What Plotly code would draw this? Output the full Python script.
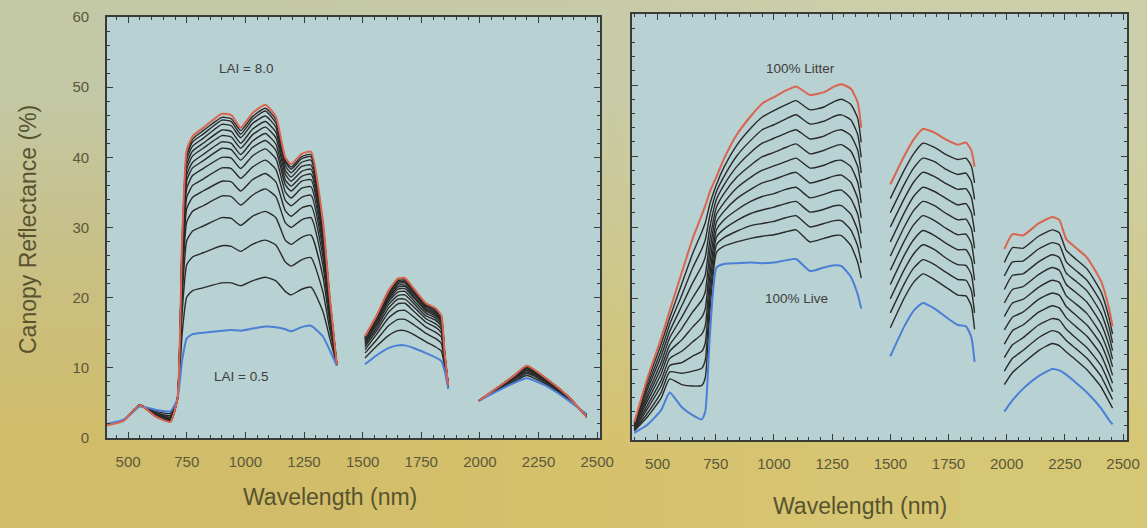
import base64
import struct
import zlib
import plotly.graph_objects as go

# ---------------- DATA ----------------
# Left panel: canopy reflectance (%) for LAI = 0.5 ... 8.0 (columns), per wavelength (rows)
lai_values = [0.5, 1.0, 1.5, 2.0, 2.5, 3.0, 3.5, 4.0, 4.5, 5.0, 5.5, 6.0, 6.5, 7.0, 7.5, 8.0]

left_vnir_wl = [410, 480, 550, 620, 680, 710, 730, 750, 775, 820, 900, 940, 980, 1030,
                1085, 1130, 1170, 1195, 1240, 1280, 1330, 1360, 1390]
left_vnir = [
    [2.0, 1.9, 1.9, 1.9, 1.9, 1.9, 1.9, 1.9, 1.9, 1.9, 1.9, 1.9, 1.9, 1.9, 1.9, 1.8],
    [2.6, 2.5, 2.5, 2.5, 2.5, 2.5, 2.5, 2.5, 2.5, 2.5, 2.5, 2.5, 2.5, 2.5, 2.5, 2.4],
    [4.5, 4.5, 4.6, 4.6, 4.6, 4.6, 4.7, 4.7, 4.7, 4.7, 4.7, 4.7, 4.7, 4.7, 4.7, 4.7],
    [4.0, 3.8, 3.6, 3.5, 3.4, 3.3, 3.3, 3.2, 3.2, 3.1, 3.1, 3.1, 3.1, 3.0, 3.0, 3.0],
    [3.8, 3.5, 3.2, 3.0, 2.9, 2.8, 2.7, 2.6, 2.5, 2.5, 2.5, 2.4, 2.4, 2.4, 2.3, 2.3],
    [5.5, 5.5, 5.5, 5.5, 5.5, 5.5, 5.5, 5.5, 5.5, 5.5, 5.5, 5.5, 5.5, 5.5, 5.5, 5.5],
    [11.0, 14.7, 17.6, 19.8, 21.5, 22.7, 23.8, 24.6, 25.3, 25.8, 26.3, 26.7, 27.2, 27.5, 27.7, 28.0],
    [14.2, 20.1, 24.7, 28.1, 30.8, 32.7, 34.3, 35.6, 36.7, 37.5, 38.3, 39.0, 39.7, 40.2, 40.6, 41.0],
    [14.8, 21.0, 25.8, 29.5, 32.3, 34.3, 36.0, 37.4, 38.5, 39.3, 40.2, 40.9, 41.6, 42.2, 42.6, 43.0],
    [15.0, 21.4, 26.4, 30.2, 33.1, 35.2, 36.9, 38.4, 39.5, 40.4, 41.3, 42.0, 42.7, 43.3, 43.8, 44.2],
    [15.3, 22.1, 27.4, 31.4, 34.5, 36.6, 38.5, 40.0, 41.3, 42.2, 43.1, 43.9, 44.7, 45.3, 45.7, 46.2],
    [15.4, 22.1, 27.3, 31.3, 34.4, 36.5, 38.4, 39.9, 41.1, 42.0, 42.9, 43.7, 44.5, 45.1, 45.5, 46.0],
    [15.3, 21.7, 26.6, 30.3, 33.2, 35.2, 37.0, 38.4, 39.6, 40.4, 41.3, 42.0, 42.8, 43.3, 43.8, 44.2],
    [15.6, 22.4, 27.6, 31.6, 34.6, 36.8, 38.6, 40.2, 41.4, 42.3, 43.2, 44.0, 44.8, 45.4, 45.8, 46.3],
    [15.9, 22.9, 28.2, 32.3, 35.5, 37.7, 39.6, 41.2, 42.4, 43.4, 44.3, 45.1, 45.9, 46.6, 47.0, 47.5],
    [15.8, 22.4, 27.5, 31.4, 34.4, 36.5, 38.3, 39.8, 41.0, 41.9, 42.8, 43.6, 44.3, 44.9, 45.4, 45.8],
    [15.5, 20.9, 25.1, 28.2, 30.7, 32.4, 33.9, 35.1, 36.1, 36.8, 37.6, 38.2, 38.8, 39.3, 39.6, 40.0],
    [15.2, 20.4, 24.5, 27.6, 30.0, 31.6, 33.1, 34.2, 35.2, 35.9, 36.6, 37.2, 37.8, 38.3, 38.6, 39.0],
    [15.8, 21.2, 25.4, 28.6, 31.1, 32.8, 34.3, 35.6, 36.6, 37.3, 38.0, 38.7, 39.3, 39.8, 40.1, 40.5],
    [16.0, 21.5, 25.7, 28.9, 31.4, 33.1, 34.6, 35.8, 36.8, 37.6, 38.3, 38.9, 39.6, 40.1, 40.4, 40.8],
    [14.5, 18.1, 20.9, 23.1, 24.7, 25.9, 26.9, 27.7, 28.4, 28.9, 29.4, 29.8, 30.2, 30.5, 30.8, 31.0],
    [12.5, 14.2, 15.4, 16.4, 17.2, 17.7, 18.1, 18.5, 18.8, 19.0, 19.3, 19.4, 19.6, 19.8, 19.9, 20.0],
    [10.3, 10.4, 10.4, 10.4, 10.4, 10.4, 10.4, 10.4, 10.4, 10.4, 10.4, 10.4, 10.4, 10.4, 10.4, 10.5],
]

left_swir1_wl = [1510, 1560, 1610, 1650, 1680, 1720, 1770, 1810, 1835, 1850, 1865]
left_swir1 = [
    [10.5, 11.4, 12.1, 12.6, 13.0, 13.3, 13.5, 13.7, 13.9, 14.0, 14.1, 14.2, 14.3, 14.4, 14.4, 14.5],
    [11.8, 13.1, 14.0, 14.8, 15.3, 15.7, 16.1, 16.4, 16.6, 16.8, 16.9, 17.1, 17.2, 17.3, 17.4, 17.5],
    [12.8, 14.6, 16.0, 17.1, 17.9, 18.5, 19.0, 19.4, 19.7, 19.9, 20.2, 20.4, 20.6, 20.8, 20.9, 21.0],
    [13.2, 15.3, 16.9, 18.1, 19.1, 19.8, 20.3, 20.8, 21.2, 21.5, 21.8, 22.0, 22.2, 22.4, 22.6, 22.7],
    [13.2, 15.3, 16.9, 18.2, 19.2, 19.8, 20.4, 20.9, 21.3, 21.6, 21.8, 22.1, 22.3, 22.5, 22.7, 22.8],
    [12.8, 14.7, 16.1, 17.2, 18.0, 18.6, 19.1, 19.5, 19.9, 20.1, 20.4, 20.6, 20.8, 21.0, 21.1, 21.2],
    [12.1, 13.7, 14.9, 15.8, 16.5, 17.0, 17.4, 17.8, 18.1, 18.3, 18.5, 18.7, 18.9, 19.0, 19.1, 19.2],
    [11.5, 13.0, 14.2, 15.1, 15.8, 16.3, 16.8, 17.1, 17.4, 17.6, 17.8, 18.0, 18.2, 18.3, 18.4, 18.5],
    [11.0, 12.4, 13.5, 14.4, 15.0, 15.5, 15.9, 16.2, 16.5, 16.7, 16.9, 17.0, 17.2, 17.3, 17.4, 17.5],
    [9.5, 10.1, 10.5, 10.8, 11.1, 11.2, 11.4, 11.5, 11.6, 11.7, 11.8, 11.8, 11.9, 11.9, 12.0, 12.0],
    [7.0, 7.1, 7.2, 7.3, 7.3, 7.3, 7.4, 7.4, 7.4, 7.4, 7.5, 7.5, 7.5, 7.5, 7.5, 7.5],
]

left_swir2_wl = [1995, 2080, 2150, 2200, 2290, 2380, 2455]
left_swir2 = [
    [5.3, 5.3, 5.3, 5.3, 5.3, 5.3, 5.3, 5.3, 5.3, 5.3, 5.3, 5.3, 5.3, 5.3, 5.3, 5.3],
    [6.8, 6.9, 7.0, 7.1, 7.1, 7.1, 7.2, 7.2, 7.2, 7.2, 7.2, 7.3, 7.3, 7.3, 7.3, 7.3],
    [7.9, 8.1, 8.3, 8.5, 8.6, 8.7, 8.7, 8.8, 8.8, 8.9, 8.9, 8.9, 9.0, 9.0, 9.0, 9.0],
    [8.5, 8.9, 9.2, 9.4, 9.6, 9.7, 9.9, 9.9, 10.0, 10.1, 10.1, 10.2, 10.2, 10.2, 10.3, 10.3],
    [7.3, 7.5, 7.7, 7.8, 7.9, 8.0, 8.1, 8.1, 8.1, 8.2, 8.2, 8.2, 8.3, 8.3, 8.3, 8.3],
    [5.3, 5.4, 5.5, 5.6, 5.6, 5.6, 5.7, 5.7, 5.7, 5.7, 5.8, 5.8, 5.8, 5.8, 5.8, 5.8],
    [3.4, 3.3, 3.2, 3.2, 3.2, 3.1, 3.1, 3.1, 3.1, 3.1, 3.0, 3.0, 3.0, 3.0, 3.0, 3.0],
]

# Right panel: canopy reflectance (%) from 100% live (first column) to 100% litter (last column)
right_vnir_wl = [400, 455, 515, 552, 604, 650, 690, 705, 725, 753, 785, 840, 900, 950,
                 1000, 1050, 1095, 1155, 1215, 1260, 1290, 1330, 1360, 1375]
right_vnir = [
    [1.0, 1.3, 1.4, 1.5, 1.6, 1.8, 1.9, 2.0, 2.1, 2.3, 2.4, 2.5],
    [2.1, 3.2, 3.7, 4.3, 4.8, 5.4, 5.9, 6.4, 7.0, 7.5, 8.1, 8.6],
    [4.2, 5.9, 6.7, 7.6, 8.4, 9.3, 10.1, 10.9, 11.8, 12.6, 13.5, 14.3],
    [6.7, 8.6, 9.6, 10.5, 11.5, 12.5, 13.4, 14.4, 15.3, 16.3, 17.2, 18.2],
    [4.6, 7.8, 9.4, 10.9, 12.5, 14.1, 15.7, 17.3, 18.9, 20.4, 22.0, 23.6],
    [3.5, 7.6, 9.7, 11.8, 13.8, 15.9, 18.0, 20.0, 22.1, 24.2, 26.2, 28.3],
    [2.9, 7.7, 10.1, 12.5, 14.9, 17.3, 19.7, 22.1, 24.5, 26.9, 29.3, 31.7],
    [4.0, 8.8, 11.3, 13.7, 16.1, 18.5, 20.9, 23.3, 25.8, 28.2, 30.6, 33.0],
    [15.0, 18.3, 20.0, 21.7, 23.3, 25.0, 26.7, 28.3, 30.0, 31.7, 33.3, 35.0],
    [24.3, 26.4, 27.5, 28.6, 29.6, 30.7, 31.8, 32.8, 33.9, 35.0, 36.0, 37.1],
    [24.8, 27.3, 28.5, 29.7, 31.0, 32.2, 33.4, 34.7, 35.9, 37.1, 38.4, 39.6],
    [24.9, 27.9, 29.4, 30.9, 32.4, 34.0, 35.5, 37.0, 38.5, 40.0, 41.5, 43.0],
    [25.0, 28.4, 30.2, 31.9, 33.6, 35.3, 37.0, 38.7, 40.5, 42.2, 43.9, 45.6],
    [24.9, 28.7, 30.5, 32.4, 34.3, 36.2, 38.0, 39.9, 41.8, 43.7, 45.5, 47.4],
    [25.0, 28.9, 30.8, 32.8, 34.7, 36.7, 38.6, 40.5, 42.5, 44.4, 46.4, 48.3],
    [25.3, 29.3, 31.3, 33.3, 35.3, 37.3, 39.2, 41.2, 43.2, 45.2, 47.2, 49.2],
    [25.5, 29.6, 31.6, 33.6, 35.6, 37.7, 39.7, 41.7, 43.7, 45.8, 47.8, 49.8],
    [23.8, 27.9, 30.0, 32.1, 34.1, 36.2, 38.3, 40.3, 42.4, 44.5, 46.5, 48.6],
    [24.3, 28.4, 30.5, 32.5, 34.6, 36.7, 38.7, 40.8, 42.8, 44.9, 46.9, 49.0],
    [24.6, 28.8, 30.9, 33.0, 35.1, 37.2, 39.3, 41.4, 43.5, 45.6, 47.7, 49.8],
    [24.5, 28.8, 30.9, 33.0, 35.2, 37.3, 39.4, 41.6, 43.7, 45.8, 48.0, 50.1],
    [23.0, 27.4, 29.6, 31.8, 34.0, 36.3, 38.5, 40.7, 42.9, 45.1, 47.3, 49.5],
    [20.5, 25.0, 27.3, 29.5, 31.8, 34.0, 36.3, 38.5, 40.8, 43.0, 45.3, 47.5],
    [18.5, 22.8, 24.9, 27.0, 29.1, 31.3, 33.4, 35.5, 37.6, 39.8, 41.9, 44.0],
]

right_swir1_wl = [1500, 1560, 1600, 1640, 1690, 1740, 1790, 1825, 1848, 1862]
right_swir1 = [
    [11.8, 15.8, 17.9, 19.9, 21.9, 23.9, 25.9, 27.9, 30.0, 32.0, 34.0, 36.0],
    [16.0, 20.0, 22.0, 24.0, 26.0, 28.0, 30.0, 32.0, 34.0, 36.0, 38.0, 40.0],
    [18.2, 22.2, 24.2, 26.2, 28.2, 30.3, 32.3, 34.3, 36.3, 38.3, 40.3, 42.3],
    [19.3, 23.4, 25.4, 27.5, 29.5, 31.6, 33.6, 35.6, 37.7, 39.7, 41.8, 43.8],
    [18.5, 22.6, 24.7, 26.8, 28.8, 30.9, 33.0, 35.0, 37.1, 39.2, 41.2, 43.3],
    [17.3, 21.5, 23.6, 25.6, 27.7, 29.8, 31.9, 34.0, 36.1, 38.1, 40.2, 42.3],
    [16.2, 20.4, 22.6, 24.7, 26.8, 28.9, 31.0, 33.1, 35.3, 37.4, 39.5, 41.6],
    [16.0, 20.3, 22.5, 24.6, 26.8, 29.0, 31.1, 33.3, 35.4, 37.6, 39.7, 41.9],
    [14.5, 18.9, 21.1, 23.3, 25.5, 27.7, 29.8, 32.0, 34.2, 36.4, 38.6, 40.8],
    [11.0, 15.6, 17.9, 20.2, 22.5, 24.8, 27.0, 29.3, 31.6, 33.9, 36.2, 38.5],
]

right_swir2_wl = [1990, 2025, 2070, 2137, 2196, 2226, 2256, 2300, 2345, 2405, 2440, 2455]
right_swir2 = [
    [4.0, 7.8, 9.7, 11.6, 13.5, 15.5, 17.4, 19.3, 21.2, 23.1, 25.0, 26.9],
    [5.6, 9.5, 11.5, 13.4, 15.4, 17.3, 19.3, 21.2, 23.2, 25.1, 27.1, 29.0],
    [7.2, 10.8, 12.6, 14.4, 16.2, 18.0, 19.8, 21.6, 23.4, 25.2, 27.0, 28.8],
    [9.0, 12.6, 14.4, 16.2, 18.0, 19.8, 21.5, 23.3, 25.1, 26.9, 28.7, 30.5],
    [10.0, 13.6, 15.4, 17.1, 18.9, 20.7, 22.5, 24.3, 26.1, 27.8, 29.6, 31.4],
    [9.8, 13.3, 15.1, 16.9, 18.6, 20.4, 22.2, 23.9, 25.7, 27.5, 29.2, 31.0],
    [9.2, 12.4, 14.0, 15.6, 17.2, 18.8, 20.3, 21.9, 23.5, 25.1, 26.7, 28.3],
    [8.0, 11.2, 12.8, 14.3, 15.9, 17.5, 19.1, 20.7, 22.3, 23.8, 25.4, 27.0],
    [6.7, 9.9, 11.5, 13.0, 14.6, 16.2, 17.8, 19.4, 21.0, 22.5, 24.1, 25.7],
    [4.5, 7.5, 9.0, 10.5, 12.0, 13.5, 14.9, 16.4, 17.9, 19.4, 20.9, 22.4],
    [2.8, 5.4, 6.7, 8.0, 9.3, 10.7, 12.0, 13.3, 14.6, 15.9, 17.2, 18.5],
    [2.2, 4.5, 5.7, 6.8, 8.0, 9.1, 10.3, 11.4, 12.6, 13.7, 14.9, 16.0],
]

x_tick_values = [500, 750, 1000, 1250, 1500, 1750, 2000, 2250, 2500]
y_tick_values = [0, 10, 20, 30, 40, 50, 60]

# ---------------- STYLE ----------------
W, H = 1147, 528
FONT = "Liberation Sans, Arial, sans-serif"
frame_c = "#3a3a37"
tick_c = "#5c5839"
title_c = "#57532f"
note_c = "#3e3e3c"
plot_bg = "#b8d1d2"
black_c = "#2a2a2a"
blue_c = "#4b7fd6"
red_c = "#d9654f"


def px(x):
    return x / W


def py(y):
    return 1 - y / H


def png_uri(rows):
    h = len(rows)
    w = len(rows[0])
    raw = b"".join(b"\x00" + bytes([c for p in row for c in p]) for row in rows)

    def chunk(tag, data):
        return (struct.pack(">I", len(data)) + tag + data
                + struct.pack(">I", zlib.crc32(tag + data) & 0xFFFFFFFF))

    png = (b"\x89PNG\r\n\x1a\n"
           + chunk(b"IHDR", struct.pack(">IIBBBBB", w, h, 8, 2, 0, 0, 0))
           + chunk(b"IDAT", zlib.compress(raw))
           + chunk(b"IEND", b""))
    return "data:image/png;base64," + base64.b64encode(png).decode()


bg_rows = [
    [(0xC3, 0xC8, 0xA6), (0xC8, 0xCB, 0xA8), (0xCC, 0xD0, 0xAA)],
    [(0xC9, 0xC0, 0x83), (0xCE, 0xC8, 0x8C), (0xD0, 0xCB, 0x93)],
    [(0xD1, 0xBD, 0x69), (0xD6, 0xC2, 0x6D), (0xD6, 0xC7, 0x75)],
]


def series(segments, j):
    xs, ys = [], []
    for k, (wl, rows) in enumerate(segments):
        if k:
            xs.append(None)
            ys.append(None)
        xs += list(wl)
        ys += [r[j] for r in rows]
    return xs, ys


left_segments = [(left_vnir_wl, left_vnir), (left_swir1_wl, left_swir1), (left_swir2_wl, left_swir2)]
right_segments = [(right_vnir_wl, right_vnir), (right_swir1_wl, right_swir1), (right_swir2_wl, right_swir2)]

fig = go.Figure()


def add_panel(segments, ncols, xa, ya, names):
    order = list(range(1, ncols - 1)) + [0, ncols - 1]
    for j in order:
        xs, ys = series(segments, j)
        if j == 0:
            col, wid = blue_c, 2.0
        elif j == ncols - 1:
            col, wid = red_c, 2.0
        else:
            col, wid = black_c, 1.4
        fig.add_trace(go.Scatter(x=xs, y=ys, mode="lines", xaxis=xa, yaxis=ya,
                                 line=dict(color=col, width=wid, shape="spline", smoothing=0.5),
                                 connectgaps=False, showlegend=False, hoverinfo="skip",
                                 name=names[j]))


add_panel(left_segments, len(lai_values), "x", "y", [f"LAI = {v}" for v in lai_values])
add_panel(right_segments, 12, "x2", "y2", [f"curve {i}" for i in range(12)])

axis_common = dict(
    showline=True, linecolor=frame_c, linewidth=1.6, mirror="ticks",
    ticks="inside", ticklen=6, tickwidth=1.3, tickcolor=frame_c,
    showgrid=False, zeroline=False, automargin=False,
    tickfont=dict(family=FONT, size=15, color=tick_c),
)

xminor = dict(ticks="inside", ticklen=3, tickwidth=1, tickcolor=frame_c, dtick=50, tick0=500, showgrid=False)
yminor = dict(ticks="inside", ticklen=3, tickwidth=1, tickcolor=frame_c, dtick=2, tick0=0, showgrid=False)

fig.update_layout(
    width=W, height=H,
    margin=dict(l=0, r=0, t=0, b=0, autoexpand=False),
    paper_bgcolor="#cec58a",
    plot_bgcolor="rgba(0,0,0,0)",
    showlegend=False,
    xaxis=dict(axis_common, domain=[px(107), px(600)], range=[410, 2512], anchor="y",
               tickmode="array", tickvals=x_tick_values, minor=xminor, ticklabelstandoff=9),
    yaxis=dict(axis_common, domain=[py(438), py(17)], range=[0, 60], anchor="x",
               tickmode="array", tickvals=y_tick_values, minor=yminor, ticklabelstandoff=13),
    xaxis2=dict(axis_common, domain=[px(632), px(1127)], range=[390, 2517], anchor="y2",
                tickmode="array", tickvals=x_tick_values, minor=xminor, ticklabelstandoff=9),
    yaxis2=dict(axis_common, domain=[py(440), py(14)], range=[0, 60], anchor="x2",
                tickmode="array", tickvals=y_tick_values, minor=yminor, showticklabels=False),
    images=[dict(source=png_uri(bg_rows), xref="paper", yref="paper", x=0, y=1,
                 sizex=1, sizey=1, xanchor="left", yanchor="top", sizing="stretch",
                 layer="below")],
    shapes=[
        dict(type="rect", xref="x domain", yref="y domain", x0=0, x1=1, y0=0, y1=1,
             fillcolor=plot_bg, line_width=0, layer="below"),
        dict(type="rect", xref="x2 domain", yref="y2 domain", x0=0, x1=1, y0=0, y1=1,
             fillcolor=plot_bg, line_width=0, layer="below"),
    ],
)

annotations = [
    dict(text="Canopy Reflectance (%)", x=px(28), y=py(230), textangle=-90, size=23, color=title_c),
    dict(text="Wavelength (nm)", x=px(330), y=py(497), textangle=0, size=23, color=title_c),
    dict(text="Wavelength (nm)", x=px(860), y=py(506), textangle=0, size=23, color=title_c),
    dict(text="LAI = 8.0", x=px(246), y=py(68), textangle=0, size=13.5, color=note_c),
    dict(text="LAI = 0.5", x=px(241), y=py(376), textangle=0, size=13.5, color=note_c),
    dict(text="100% Litter", x=px(800), y=py(68), textangle=0, size=13.5, color=note_c),
    dict(text="100% Live", x=px(796), y=py(298), textangle=0, size=13.5, color=note_c),
]
for a in annotations:
    fig.add_annotation(text=a["text"], x=a["x"], y=a["y"], xref="paper", yref="paper",
                       showarrow=False, textangle=a["textangle"], xanchor="center", yanchor="middle",
                       font=dict(family=FONT, size=a["size"], color=a["color"]))

fig.write_html(
    "out.html",
    config={"displayModeBar": False},
    post_script="document.body.style.margin='0';document.body.style.background='#cec58a';",
)
